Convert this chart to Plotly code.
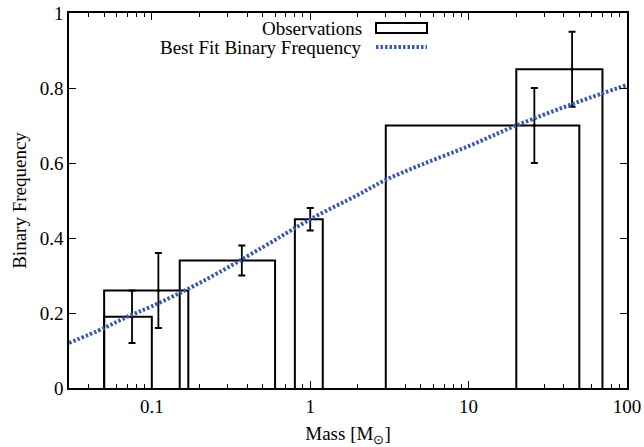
import plotly.graph_objects as go

# Observed binary frequency per mass bin
bin_lo = [0.05, 0.05, 0.15, 0.8, 3.0, 20.0]
bin_hi = [0.1, 0.17, 0.6, 1.2, 50.0, 70.0]
bin_freq = [0.19, 0.26, 0.34, 0.45, 0.70, 0.85]
bin_mass = [0.075, 0.11, 0.37, 1.0, 26.0, 45.0]
bin_err = [0.07, 0.10, 0.04, 0.03, 0.10, 0.10]

# Best-fit binary frequency curve
fit_mass = [0.03, 0.05, 0.07, 0.1, 0.2, 0.5, 1.0, 2.0, 3.0, 5.0, 10.0, 20.0, 50.0, 100.0]
fit_freq = [0.12, 0.16, 0.19, 0.218, 0.28, 0.375, 0.45, 0.515, 0.555, 0.595, 0.645, 0.70, 0.764, 0.808]

x_major = [0.1, 1, 10, 100]
x_major_text = ["0.1", "1", "10", "100"]
x_minor = [m * d for d in (0.01, 0.1, 1, 10) for m in range(2, 10) if 0.03 <= m * d <= 100]
y_major = [0, 0.2, 0.4, 0.6, 0.8, 1.0]
y_major_text = ["0", "0.2", "0.4", "0.6", "0.8", "1"]

FONT = "Liberation Serif, Times New Roman, serif"
BLUE = "#3a5aae"

fig = go.Figure()

# Outline of each mass bin
for lo, hi, f in zip(bin_lo, bin_hi, bin_freq):
    fig.add_trace(go.Scatter(
        x=[lo, lo, hi, hi], y=[0, f, f, 0], mode="lines",
        line=dict(color="black", width=2), showlegend=False, hoverinfo="skip"))

# Error bars at the bin centres
fig.add_trace(go.Scatter(
    x=bin_mass, y=bin_freq, mode="markers",
    marker=dict(color="black", size=3),
    error_y=dict(type="data", array=bin_err, color="black", thickness=1.8, width=3.5),
    showlegend=False))

# Best-fit curve
fig.add_trace(go.Scatter(
    x=fit_mass, y=fit_freq, mode="lines", line_shape="spline",
    line=dict(color=BLUE, width=4, dash="2.5px,2px"), showlegend=False))

# Key in the upper right, text right-aligned before its sample
key_text_x = 364
key_sample = (376, 427)
W, H = 644, 447
L, R, T, B = 69, 17, 13, 59
pw, ph = W - L - R, H - T - B


def px(xp):
    return (xp - L) / pw


def py(yp):
    return 1 - (yp - T) / ph


for label, yc in (("Observations", 28), ("Best Fit Binary Frequency", 47)):
    fig.add_annotation(x=px(key_text_x), y=py(yc), xref="paper", yref="paper",
                       text=label, showarrow=False, xanchor="right", yanchor="middle",
                       font=dict(family=FONT, size=19, color="black"))
fig.add_shape(type="rect", xref="paper", yref="paper",
              x0=px(key_sample[0]), x1=px(key_sample[1]), y0=py(33), y1=py(23),
              line=dict(color="black", width=2), fillcolor="rgba(0,0,0,0)")
fig.add_shape(type="line", xref="paper", yref="paper",
              x0=px(key_sample[0]), x1=px(key_sample[1]), y0=py(47), y1=py(47),
              line=dict(color=BLUE, width=4, dash="2.5px,2px"))

axis_common = dict(
    showgrid=False, zeroline=False, showline=True, linecolor="black", linewidth=1.5,
    mirror="allticks", ticks="inside", ticklen=7, tickwidth=1.2, tickcolor="black",
    tickfont=dict(family=FONT, size=19, color="black"), automargin=False,
)

fig.update_xaxes(
    type="log", range=[-1.5229, 2], tickmode="array",
    tickvals=x_major, ticktext=x_major_text,
    minor=dict(tickmode="array", tickvals=x_minor, ticks="inside", ticklen=4,
               tickwidth=1, tickcolor="black", showgrid=False),
    title=dict(text="Mass [M<sub>⊙</sub>]", font=dict(family=FONT, size=19, color="black"),
               standoff=12),
    **axis_common)
fig.update_yaxes(
    range=[0, 1], tickmode="array", tickvals=y_major, ticktext=y_major_text,
    title=dict(text="Binary Frequency", font=dict(family=FONT, size=19, color="black"),
               standoff=8),
    **axis_common)

fig.update_layout(
    width=W, height=H, margin=dict(l=L, r=R, t=T, b=B),
    paper_bgcolor="white", plot_bgcolor="white",
    font=dict(family=FONT, size=19, color="black"),
)

fig.write_html("out.html")
